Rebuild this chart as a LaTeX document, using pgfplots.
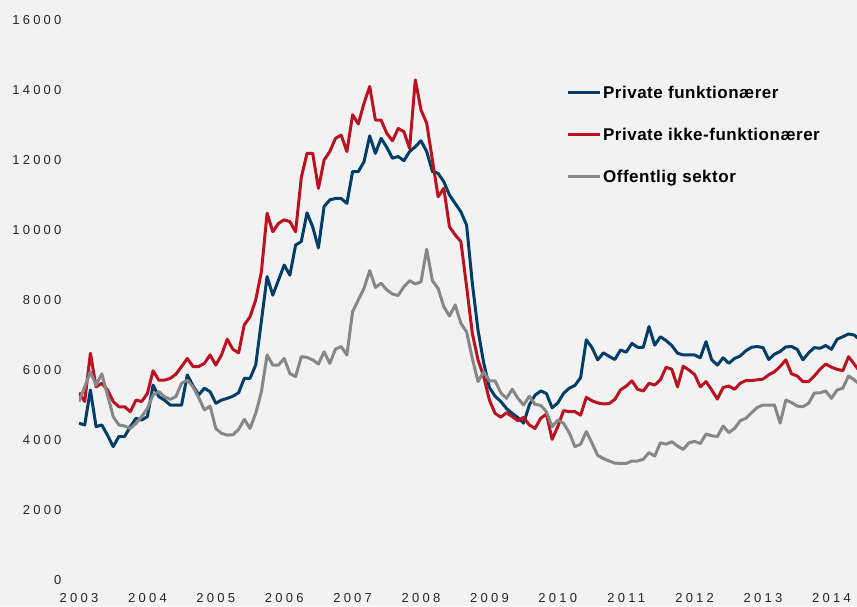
\documentclass[border=0pt]{standalone}
\usepackage{fontspec}
\setmainfont{Liberation Sans}
\newfontfamily\tickfont[LetterSpace=25]{Liberation Sans}
\newfontfamily\legfont[LetterSpace=3]{Liberation Sans}
\usepackage{pgfplots}
\usepackage{pgfplotstable}
\pgfplotsset{compat=1.18}
\definecolor{bg}{RGB}{242,242,242}
\definecolor{cblue}{RGB}{0,62,104}
\definecolor{cred}{RGB}{186,18,33}
\definecolor{cgray}{RGB}{135,135,135}
\pgfplotstableread{
m b r g
0 4480 5350 5100
1 4430 5100 5520
2 5430 6480 5950
3 4380 5520 5570
4 4430 5620 5890
5 4140 5430 5290
6 3810 5100 4670
7 4100 4950 4430
8 4100 4950 4400
9 4380 4810 4330
10 4620 5140 4480
11 4570 5100 4670
12 4670 5330 4900
13 5570 5980 5290
14 5240 5710 5380
15 5140 5710 5240
16 5000 5760 5160
17 5000 5880 5240
18 5000 6100 5620
19 5860 6330 5710
20 5550 6100 5520
21 5290 6100 5210
22 5480 6190 4860
23 5380 6430 4970
24 5050 6140 4330
25 5140 6430 4190
26 5190 6880 4140
27 5250 6590 4150
28 5350 6490 4300
29 5760 7290 4590
30 5760 7520 4330
31 6140 8000 4760
32 7400 8810 5380
33 8670 10480 6430
34 8140 9950 6140
35 8570 10190 6140
36 9000 10290 6330
37 8710 10240 5900
38 9570 9950 5810
39 9670 11500 6380
40 10490 12190 6360
41 10090 12190 6290
42 9490 11190 6170
43 10670 12000 6520
44 10860 12240 6190
45 10900 12620 6600
46 10900 12710 6670
47 10760 12240 6430
48 11670 13290 7670
49 11670 13030 8000
50 11950 13620 8330
51 12690 14100 8840
52 12190 13140 8360
53 12620 13140 8480
54 12360 12760 8290
55 12050 12550 8170
56 12100 12900 8130
57 11980 12810 8380
58 12240 12330 8550
59 12380 14290 8460
60 12550 13430 8520
61 12240 13050 9450
62 11670 12000 8550
63 11620 10950 8330
64 11380 11190 7810
65 11000 10090 7540
66 10760 9860 7860
67 10520 9670 7330
68 10140 8380 7090
69 8480 7050 6330
70 7140 6290 5670
71 6200 5810 5950
72 5500 5140 5690
73 5250 4760 5690
74 5100 4650 5350
75 4900 4780 5190
76 4760 4670 5450
77 4640 4550 5190
78 4480 4650 5000
79 5000 4430 5250
80 5280 4330 5020
81 5400 4620 4990
82 5330 4740 4810
83 4920 4020 4380
84 5060 4380 4570
85 5330 4840 4480
86 5480 4810 4210
87 5560 4810 3810
88 5780 4710 3880
89 6860 5220 4240
90 6640 5120 3910
91 6290 5060 3560
92 6490 5030 3470
93 6390 5040 3400
94 6300 5160 3340
95 6570 5430 3330
96 6510 5540 3330
97 6760 5690 3400
98 6650 5450 3400
99 6650 5400 3450
100 7240 5620 3640
101 6710 5570 3540
102 6950 5720 3920
103 6840 6080 3880
104 6700 6020 3950
105 6480 5520 3830
106 6430 6110 3730
107 6430 6000 3920
108 6430 5870 3960
109 6350 5520 3900
110 6810 5670 4170
111 6290 5430 4120
112 6140 5170 4100
113 6350 5500 4400
114 6190 5540 4210
115 6330 5450 4330
116 6400 5620 4550
117 6550 5700 4620
118 6650 5700 4780
119 6670 5720 4930
120 6640 5740 5000
121 6300 5860 5000
122 6450 5950 5000
123 6530 6100 4480
124 6660 6290 5140
125 6670 5890 5070
126 6590 5830 4970
127 6290 5670 4950
128 6490 5670 5050
129 6640 5830 5340
130 6620 6020 5350
131 6700 6170 5400
132 6590 6080 5190
133 6880 6020 5430
134 6950 5980 5480
135 7030 6380 5830
136 7000 6170 5720
137 6860 5950 5580
}\data
\begin{document}
\begin{tikzpicture}[x=1pt,y=1pt]
\fill[bg] (-79,-26) rectangle (778,580);
\begin{axis}[
  at={(0,0)}, anchor=south west,
  scale only axis, width=778pt, height=560pt,
  xmin=2003, xmax=2014.374, ymin=0, ymax=16000,
  scaled y ticks=false, scaled x ticks=false,
  axis line style={draw=none}, major tick length=0pt, tick style={draw=none},
  xtick={2003,2004,2005,2006,2007,2008,2009,2010,2011,2012,2013,2014},
  xticklabels={2003,2004,2005,2006,2007,2008,2009,2010,2011,2012,2013,2014},
  ytick={0,2000,4000,6000,8000,10000,12000,14000,16000},
  yticklabels={0,2000,4000,6000,8000,10000,12000,14000,16000},
  /pgf/number format/assume math mode=true,
  ticklabel style={font=\tickfont\fontsize{13}{13}\selectfont, text=black!85},
  yticklabel style={anchor=east, xshift=-14pt},
  xticklabel style={anchor=north, yshift=-10pt},
  legend style={at={(0.622,0.8895)}, anchor=north west, draw=none, fill=none,
    font=\legfont\bfseries\fontsize{17}{19}\selectfont, row sep=24pt, cells={anchor=west}},
  legend image code/.code={\draw[#1,line width=3pt] (0pt,0pt) -- (32pt,0pt);},
  every axis plot/.append style={line width=3pt, line join=round},
]
\addplot[cblue] table[x expr={2003+\thisrow{m}/12}, y=b] {\data};
\addlegendentry{Private funktionærer}
\addplot[cred] table[x expr={2003+\thisrow{m}/12}, y=r] {\data};
\addlegendentry{Private ikke-funktionærer}
\addplot[cgray] table[x expr={2003+\thisrow{m}/12}, y=g] {\data};
\addlegendentry{Offentlig sektor}
\end{axis}
\end{tikzpicture}
\end{document}
